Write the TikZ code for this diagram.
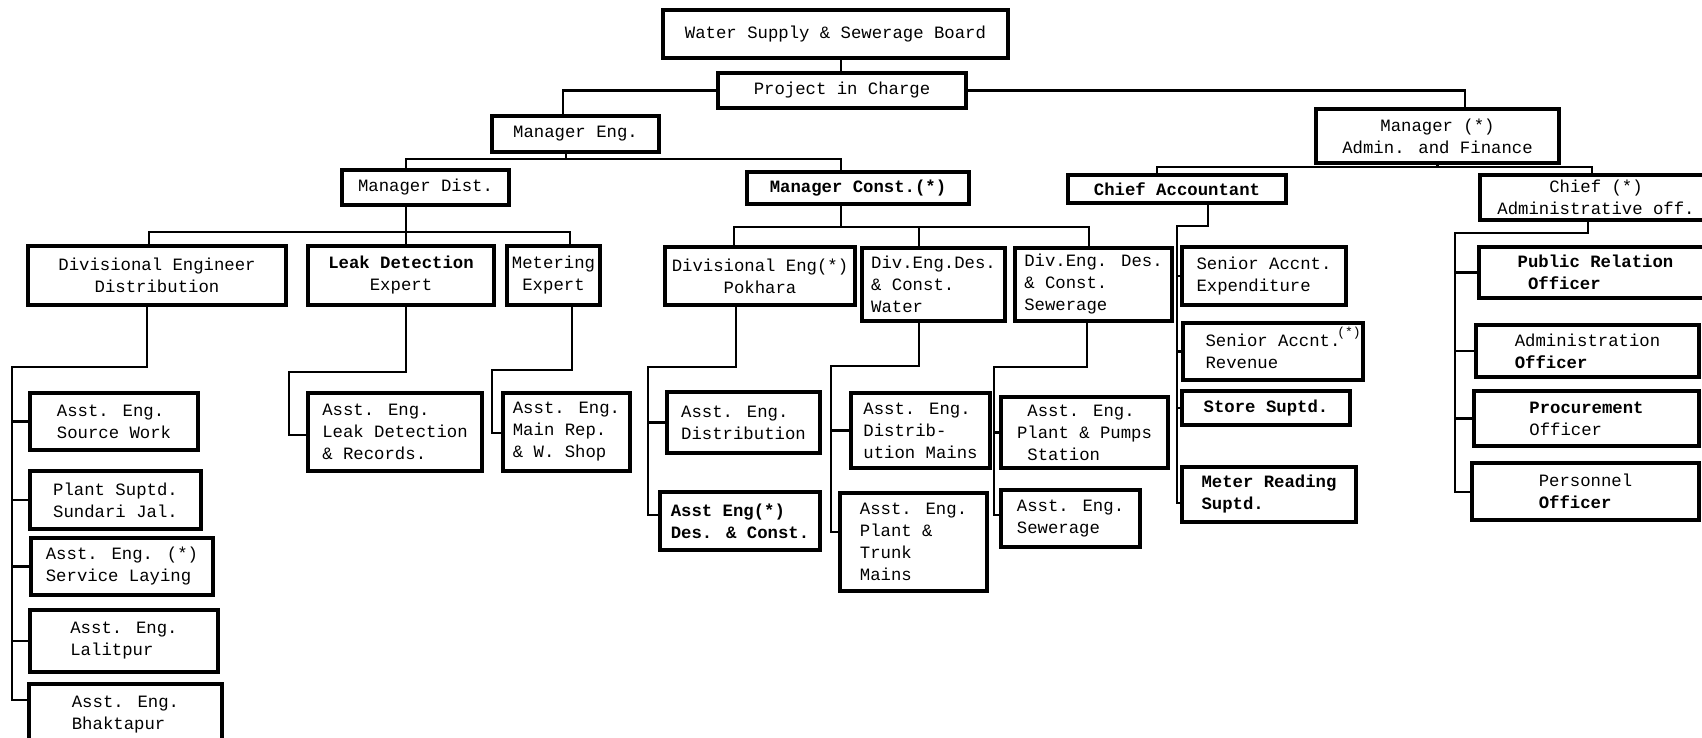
\documentclass[tikz,border=0pt]{standalone}
\usepackage{fontspec}
\newfontfamily\tw{Liberation Mono}
\newcommand{\ob}[7][]{\node[box,minimum width={(#5-#3)*1pt},minimum height={(#6-#4)*1pt},#1] (#2) at ({(#3+#5)/2},{(#4+#6)/2}) {#7};}
\begin{document}
\begin{tikzpicture}[x=1pt,y=-1pt,
  box/.style={draw, line width=3.2pt, align=left, inner sep=0pt, font=\tw\fontsize{17.3}{22}\selectfont},
  bfb/.style={font=\tw\bfseries\fontsize{17.3}{22}\selectfont},
  conn/.style={line width=2.9pt}]
\useasboundingbox (0,0) rectangle (1702,737);
% ---- boxes
\ob{board}{663}{10}{1008}{58}{Water Supply \& Sewerage Board}
\ob{pic}{718}{73}{966}{108}{Project in Charge}
\ob{mgreng}{492}{116}{659}{152}{Manager Eng.}
\ob[align=center]{mgraf}{1316}{109}{1559}{163}{Manager (*)\\Admin. and Finance}
\ob{mgrdist}{342}{170}{509}{205}{Manager Dist.}
\ob[bfb]{mgrconst}{747}{172}{969}{204}{Manager Const.(*)}
\ob[bfb]{chiefacc}{1068}{175}{1286}{203}{Chief Accountant}
\ob[align=center]{chiefadm}{1480}{175}{1712}{220}{Chief (*)\\Administrative off.}
\ob[align=center]{dived}{28}{246}{286}{305}{Divisional Engineer\\Distribution}
\ob[align=center]{leakexp}{308}{246}{494}{305}{{\bfseries Leak Detection}\\Expert}
\ob[align=center]{metexp}{507}{246}{600}{305}{Metering\\Expert}
\ob[align=center]{divpok}{665}{247}{855}{305}{Divisional Eng(*)\\Pokhara}
\ob{divwat}{862}{248}{1005}{321}{Div.Eng.Des.\\\& Const.\\Water}
\ob{divsew}{1015}{248}{1172}{321}{Div.Eng. Des.\\\& Const.\\Sewerage}
\ob{sraexp}{1182}{247}{1346}{305}{Senior Accnt.\\Expenditure}
\ob{srarev}{1183}{323}{1363}{380}{Senior Accnt.\\Revenue}
\node[font=\tw\fontsize{13}{14}\selectfont, inner sep=0pt] (srarevstar) at (1349,333) {(*)};
\ob[bfb]{store}{1182}{391}{1350}{425}{Store Suptd.}
\ob[bfb]{meterrd}{1182}{467}{1356}{522}{Meter Reading\\Suptd.}
\ob{pubrel}{1479}{247}{1712}{298}{{\bfseries Public Relation}\\\phantom{x}{\bfseries Officer}}
\ob{admoff}{1476}{325}{1699}{377}{Administration\\{\bfseries Officer}}
\ob{procoff}{1474}{391}{1699}{446}{{\bfseries Procurement}\\Officer}
\ob{persoff}{1472}{463}{1699}{520}{Personnel\\{\bfseries Officer}}
\ob{aesrc}{30}{393}{198}{450}{Asst. Eng.\\Source Work}
\ob{psun}{30}{471}{201}{529}{Plant Suptd.\\Sundari Jal.}
\ob{aeserv}{31}{538}{213}{595}{Asst. Eng. (*)\\Service Laying}
\ob{aelal}{30}{610}{218}{672}{Asst. Eng.\\Lalitpur}
\ob{aebhak}{29}{684}{222}{745}{Asst. Eng.\\Bhaktapur}
\ob{aeleak}{308}{393}{482}{471}{Asst. Eng.\\Leak Detection\\\& Records.}
\ob{aemain}{503}{393}{630}{471}{Asst. Eng.\\Main Rep.\\\& W. Shop}
\ob{aedist}{667}{392}{820}{453}{Asst. Eng.\\Distribution}
\ob[bfb]{aedes}{660}{492}{820}{550}{Asst Eng(*)\\Des. \& Const.}
\ob{aedm}{851}{393}{990}{468}{Asst. Eng.\\Distrib-\\ution Mains}
\ob{aept}{840}{493}{987}{591}{Asst. Eng.\\Plant \&\\Trunk\\Mains}
\ob{aepps}{1001}{397}{1168}{468}{\phantom{x}Asst. Eng.\\Plant \& Pumps\\\phantom{x}Station}
\ob{aesew}{1001}{490}{1140}{547}{Asst. Eng.\\Sewerage}
% ---- junction coordinates
\coordinate (k1) at (841,0);
\coordinate (k2) at (563,0);
\coordinate (k3) at (1465,0);
\coordinate (k4) at (566,159);
\coordinate (k5) at (406,159);
\coordinate (k6) at (406,232);
\coordinate (k7) at (149,232);
\coordinate (k8) at (570,232);
\coordinate (k9) at (841,227);
\coordinate (k10) at (734,227);
\coordinate (k11) at (919,227);
\coordinate (k12) at (1089,227);
\coordinate (k13) at (1157,167);
\coordinate (k14) at (1592,167);
\coordinate (k15) at (1208,226);
\coordinate (k16) at (1177,226);
\coordinate (k17) at (1177,503);
\coordinate (k18) at (1588,233);
\coordinate (k19) at (1455,233);
\coordinate (k20) at (1455,492);
\coordinate (k21) at (736,367);
\coordinate (k22) at (648,367);
\coordinate (k23) at (648,515);
\coordinate (k24) at (919,366);
\coordinate (k25) at (831,366);
\coordinate (k26) at (831,532);
\coordinate (k27) at (1087,367);
\coordinate (k28) at (994,367);
\coordinate (k29) at (994,515);
\coordinate (k30) at (147,367);
\coordinate (k31) at (12,367);
\coordinate (k32) at (12,700);
\coordinate (k33) at (406,372);
\coordinate (k34) at (289,372);
\coordinate (k35) at (289,435);
\coordinate (k36) at (572,370);
\coordinate (k37) at (492,370);
\coordinate (k38) at (492,433);
% ---- connectors
\draw[conn] (board.south -| k1) -- (pic.north -| k1);
\draw[conn] (pic.west) -| (mgreng.north -| k2);
\draw[conn] (pic.east) -| (mgraf.north -| k3);
\draw[conn] (mgreng.south -| k4) -- (k4);
\draw[conn] (mgrdist.north -| k5) -- (k5) -| (mgrconst.north -| k1);
\draw[conn] (mgrdist.south -| k6) -- (k6);
\draw[conn] (dived.north -| k7) |- (k8) -- (metexp.north -| k8);
\draw[conn] (k6) -- (leakexp.north -| k6);
\draw[conn] (mgrconst.south -| k9) -- (k9);
\draw[conn] (divpok.north -| k10) |- (k12) -- (divsew.north -| k12);
\draw[conn] (k11) -- (divwat.north -| k11);
\draw[conn] (mgraf.south) -- (mgraf.south |- k13);
\draw[conn] (chiefacc.north -| k13) |- (k14) -- (chiefadm.north -| k14);
% chief accountant
\draw[conn] (chiefacc.south -| k15) -- (k15) -- (k16) -- (k17) -- (meterrd.west |- k17);
\foreach \n in {sraexp,srarev,store} \draw[conn] (k16 |- \n.west) -- (\n.west);
% chief admin
\draw[conn] (chiefadm.south -| k18) -- (k18) -- (k19) -- (k20) -- (persoff.west |- k20);
\foreach \n in {pubrel,admoff,procoff} \draw[conn] (k19 |- \n.west) -- (\n.west);
% pokhara
\draw[conn] (divpok.south -| k21) -- (k21) -- (k22) -- (k23) -- (aedes.west |- k23);
\draw[conn] (k22 |- aedist.west) -- (aedist.west);
% water
\draw[conn] (divwat.south -| k24) -- (k24) -- (k25) -- (k26) -- (aept.west |- k26);
\draw[conn] (k25 |- aedm.west) -- (aedm.west);
% sewerage
\draw[conn] (divsew.south -| k27) -- (k27) -- (k28) -- (k29) -- (aesew.west |- k29);
\draw[conn] (k28 |- aepps.west) -- (aepps.west);
% divisional engineer distribution
\draw[conn] (dived.south -| k30) -- (k30) -- (k31) -- (k32) -- (aebhak.west |- k32);
\foreach \n in {aesrc,psun,aeserv,aelal} \draw[conn] (k31 |- \n.west) -- (\n.west);
% leak detection
\draw[conn] (leakexp.south -| k33) -- (k33) -- (k34) -- (k35) -- (aeleak.west |- k35);
% metering
\draw[conn] (metexp.south -| k36) -- (k36) -- (k37) -- (k38) -- (aemain.west |- k38);
\end{tikzpicture}
\end{document}
